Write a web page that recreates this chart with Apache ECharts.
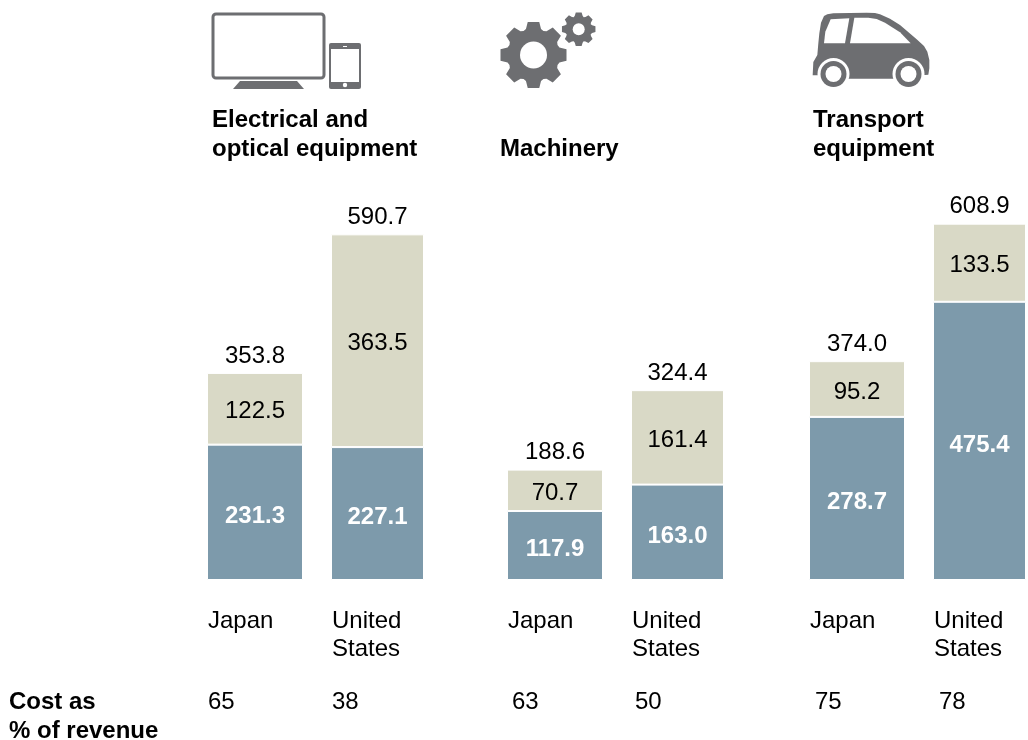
<!DOCTYPE html>
<html>
<head>
<meta charset="utf-8">
<script src="https://cdn.jsdelivr.net/npm/echarts@6/dist/echarts.min.js"></script>
<style>
    html, body { margin: 0; background: #fff; }
    #chart { width: 1028px; height: 740px; }
</style>
</head>
<body>
<div id="chart"></div>
<script>
    const countries = ['Japan', 'United\nStates', 'Japan', 'United\nStates', 'Japan', 'United\nStates']
    const lowerValues = [231.3, 227.1, 117.9, 163.0, 278.7, 475.4]
    const upperValues = [122.5, 363.5, 70.7, 161.4, 95.2, 133.5]
    const totals = [353.8, 590.7, 188.6, 324.4, 374.0, 608.9]
    const costShare = [65, 38, 63, 50, 75, 78]
    const groupNames = ['Electrical and\noptical equipment', 'Machinery', 'Transport\nequipment']

    const FONT = '"Liberation Sans", Arial, sans-serif'
    const GREY = '#6d6e71'
    const BLUE = '#7d9aab'
    const BEIGE = '#d9d9c6'
    const FONT_SIZE = 24

    // each bar gets its own grid, the bars are not evenly spaced in the original
    const barLeft = [208, 332, 508, 632, 810, 934]
    const barWidth = [94, 91, 94, 91, 94, 91]
    const costLeft = [208, 332, 512, 635, 815, 939]
    const groupLeft = [212, 500, 813]
    const groupTop = [106, 135, 106]

    const option = {
        animation: false,
        grid: [],
        xAxis: [],
        yAxis: [],
        series: [],
        title: [],
        graphic: []
    }

    for (let i = 0; i < countries.length; i++) {
        // 1px extra on each side, the white border eats into the bar
        option.grid.push({
            left: barLeft[i] - 1,
            width: barWidth[i] + 2,
            top: 223,
            height: 357
        })
        option.xAxis.push({
            type: 'category',
            gridIndex: i,
            data: [countries[i]],
            axisLine: { show: false },
            axisTick: { show: false },
            axisLabel: {
                interval: 0,
                margin: 27,
                align: 'left',
                verticalAlign: 'top',
                padding: [0, 0, 0, -barWidth[i] / 2],
                color: '#000',
                fontFamily: FONT,
                fontSize: FONT_SIZE,
                lineHeight: 28
            }
        })
        option.yAxis.push({
            type: 'value',
            gridIndex: i,
            min: 0,
            max: 610,
            show: false
        })
        option.series.push({
            type: 'bar',
            stack: 'cost' + i,
            xAxisIndex: i,
            yAxisIndex: i,
            barWidth: '100%',
            itemStyle: { color: BLUE, borderColor: '#fff', borderWidth: 1 },
            label: {
                show: true,
                position: 'inside',
                offset: [0, 4],
                color: '#fff',
                fontWeight: 'bold',
                fontFamily: FONT,
                fontSize: FONT_SIZE,
                formatter: (p) => p.value.toFixed(1)
            },
            data: [lowerValues[i]]
        }, {
            type: 'bar',
            stack: 'cost' + i,
            xAxisIndex: i,
            yAxisIndex: i,
            barWidth: '100%',
            itemStyle: { color: BEIGE, borderColor: '#fff', borderWidth: 1 },
            label: {
                show: true,
                position: 'inside',
                offset: [0, 3],
                color: '#000',
                fontFamily: FONT,
                fontSize: FONT_SIZE,
                formatter: (p) => p.value.toFixed(1)
            },
            data: [upperValues[i]]
        }, {
            // only carries the total above the bar
            type: 'scatter',
            xAxisIndex: i,
            yAxisIndex: i,
            symbolSize: 0,
            itemStyle: { opacity: 1 },
            label: {
                show: true,
                position: 'top',
                distance: 5,
                color: '#000',
                fontFamily: FONT,
                fontSize: FONT_SIZE,
                formatter: (p) => p.value.toFixed(1)
            },
            data: [totals[i]]
        })
        option.graphic.push({
            type: 'text',
            x: costLeft[i],
            y: 690,
            style: { text: String(costShare[i]), font: FONT_SIZE + 'px ' + FONT, fill: '#000' }
        })
    }

    groupNames.forEach((name, i) => {
        option.title.push({
            text: name,
            left: groupLeft[i],
            top: groupTop[i],
            padding: 0,
            textStyle: {
                color: '#000',
                fontFamily: FONT,
                fontWeight: 'bold',
                fontSize: FONT_SIZE,
                lineHeight: 29
            }
        })
    })

    option.graphic.push({
        type: 'text',
        x: 9,
        y: 688,
        style: {
            text: 'Cost as\n% of revenue',
            font: 'bold ' + FONT_SIZE + 'px ' + FONT,
            lineHeight: 29,
            fill: '#000'
        }
    })

    // outline for the cog icons, teeth pointing up at angle 0
    function gearPoints(cx, cy, rOut, rIn, teeth) {
        const pts = []
        const step = Math.PI * 2 / teeth
        const pt = (r, a) => [cx + r * Math.sin(a), cy - r * Math.cos(a)]
        for (let i = 0; i < teeth; i++) {
            const a = i * step
            pts.push(pt(rIn, a - step * 0.36), pt(rOut, a - step * 0.22), pt(rOut, a + step * 0.22), pt(rIn, a + step * 0.36), pt(rIn - 1, a + step * 0.5))
        }
        return pts
    }

    const grey = { fill: GREY }
    const white = { fill: '#fff' }
    // outlines below were traced on a 3x crop, so they are scaled back down
    const carBody = [[38, 226], [40, 186], [52, 165], [55, 130], [58, 100], [63, 68], [72, 48], [82, 43], [100, 40], [200, 38], [225, 39], [240, 43],
        [270, 56], [300, 75], [350, 118], [372, 138], [382, 155], [388, 180], [388, 205], [385, 224], [365, 226], [365, 236], [60, 236], [60, 226]]
    const carWindow1 = [[92, 58], [148, 55], [135, 130], [72, 130], [76, 95]]
    const carWindow2 = [[163, 53], [205, 53], [230, 57], [255, 68], [300, 97], [332, 130], [150, 130]]
    const carStyle = { x: 800, y: 0, scaleX: 1 / 3, scaleY: 1 / 3 }

    option.graphic.push(
        // monitor and tablet
        { type: 'rect', shape: { x: 213, y: 14, width: 111, height: 64, r: 3 }, style: { fill: '#fff', stroke: GREY, lineWidth: 3 } },
        { type: 'polygon', shape: { points: [[240, 81], [297, 81], [304, 89], [233, 89]] }, style: grey },
        { type: 'rect', shape: { x: 329, y: 43, width: 32, height: 46, r: 2 }, style: grey },
        { type: 'rect', shape: { x: 331, y: 49, width: 28, height: 33 }, style: white },
        { type: 'rect', shape: { x: 343, y: 46, width: 4, height: 1 }, style: white },
        { type: 'circle', shape: { cx: 345, cy: 85, r: 2.2 }, style: white },
        // cogs
        { type: 'polygon', shape: { points: gearPoints(533.5, 55, 33.5, 27, 8) }, style: grey },
        { type: 'circle', shape: { cx: 533.5, cy: 55, r: 13.5 }, style: white },
        { type: 'polygon', shape: { points: gearPoints(578.7, 29.2, 17, 14, 8) }, style: grey },
        { type: 'circle', shape: { cx: 578.7, cy: 29.2, r: 6 }, style: white },
        // car
        { type: 'polygon', ...carStyle, shape: { points: carBody }, style: grey },
        { type: 'polygon', ...carStyle, shape: { points: carWindow1 }, style: white },
        { type: 'polygon', ...carStyle, shape: { points: carWindow2 }, style: white }
    )
    ;[833.5, 908.5].forEach((cx) => {
        option.graphic.push(
            { type: 'circle', shape: { cx: cx, cy: 74, r: 16 }, style: white },
            { type: 'circle', shape: { cx: cx, cy: 74, r: 13 }, style: grey },
            { type: 'circle', shape: { cx: cx, cy: 74, r: 8 }, style: white }
        )
    })

    const chart = echarts.init(document.getElementById('chart'))
    chart.setOption(option)
</script>
</body>
</html>
